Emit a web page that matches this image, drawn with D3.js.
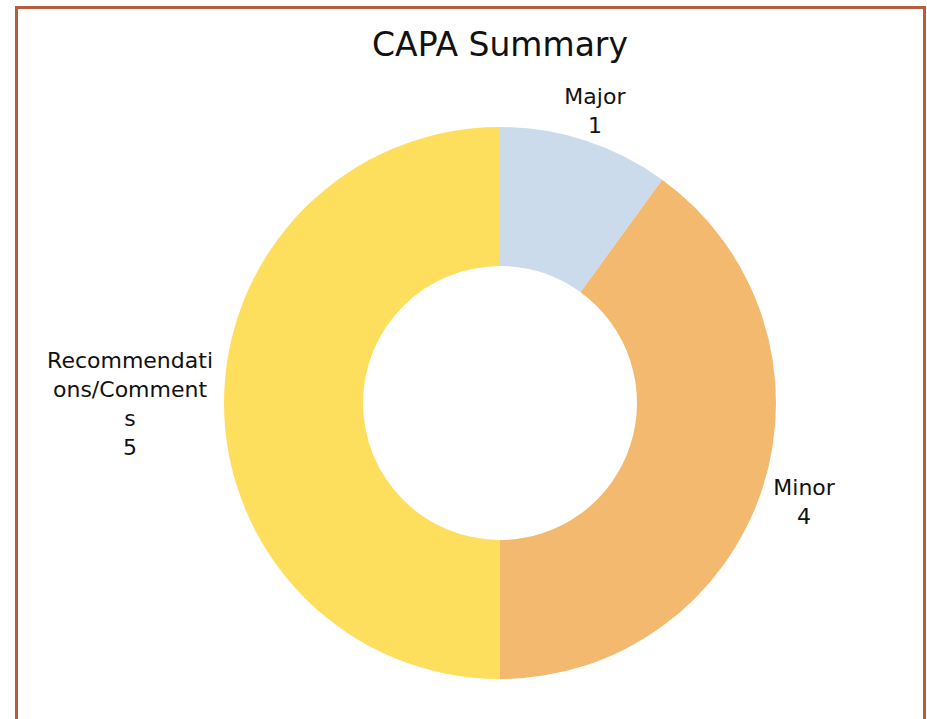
<!DOCTYPE html>
<html>
<head>
<meta charset="utf-8">
<script src="https://cdn.jsdelivr.net/npm/d3@7"></script>
<style>
  body { margin: 0; background: #fff; }
  svg { display: block; }
</style>
</head>
<body>
<div id="chart"></div>
<script>
// data
var categories = ["Major", "Minor", "Recommendations/Comments"];
var values = [1, 4, 5];
var colors = ["#CCDBEB", "#F3B96E", "#FEDE5D"];
// category text as it wraps inside the data labels
var labelLines = [["Major"], ["Minor"], ["Recommendati", "ons/Comment", "s"]];
var title = "CAPA Summary";

var width = 927, height = 719;
var cx = 500, cy = 403;
var outerR = 276, innerR = 137;
var font = "'DejaVu Sans', sans-serif";

var svg = d3.select("#chart").append("svg")
  .attr("width", width)
  .attr("height", height);

// frame (bottom edge runs off the page)
svg.append("path")
  .attr("d", "M16.5," + (height + 5) + " L16.5,7.5 L924.5,7.5 L924.5," + (height + 5))
  .style("fill", "none")
  .style("stroke", "#B85C3C")
  .style("stroke-width", 3);

svg.append("text")
  .attr("x", cx)
  .attr("y", 56)
  .attr("text-anchor", "middle")
  .style("font-family", font)
  .style("font-size", "33px")
  .style("fill", "#111")
  .text(title);

var pie = d3.pie().sort(null).value(function(d){ return d; });
var arcs = pie(values);
var arc = d3.arc().innerRadius(innerR).outerRadius(outerR);

var g = svg.append("g").attr("transform", "translate(" + cx + "," + cy + ")");

g.selectAll("path.slice")
  .data(arcs)
  .enter().append("path")
  .attr("class", "slice")
  .attr("d", arc)
  .style("fill", function(d, i){ return colors[i]; });

// labels: category lines + value, pushed outward from the rim
var lineH = 29, fs = 22, capH = fs * 0.73;
arcs.forEach(function(d, i){
  var t = g.append("text")
    .attr("text-anchor", "middle")
    .style("font-family", font)
    .style("font-size", fs + "px")
    .style("fill", "#111");

  var lines = labelLines[i].concat([String(values[i])]);
  var bw = 0;
  lines.forEach(function(l, j){
    var ts = t.append("tspan").attr("x", 0).attr("dy", j ? lineH : 0).text(l);
    bw = Math.max(bw, ts.node().getComputedTextLength());
  });
  var inkH = (lines.length - 1) * lineH + capH;

  var a = (d.startAngle + d.endAngle) / 2;
  var r = outerR + 11;
  var s = Math.sin(a), c = -Math.cos(a);
  var dist = r + (bw / 2) * Math.abs(s) + 0.5 * (inkH / 2) * Math.abs(c);
  var bx = dist * s, by = dist * c;
  var firstBase = by - inkH / 2 + capH;
  t.attr("transform", "translate(" + bx + "," + firstBase + ")");
});
</script>
</body>
</html>
